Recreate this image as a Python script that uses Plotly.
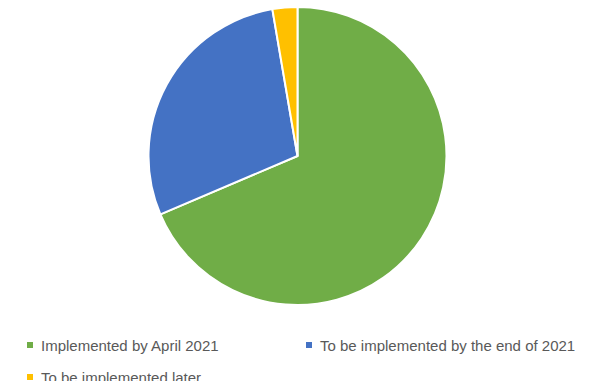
import plotly.graph_objects as go

labels = ["Implemented by April 2021", "To be implemented by the end of 2021", "To be implemented later"]
values = [68.6, 28.7, 2.7]
colors = ["#70AD47", "#4472C4", "#FFC000"]

W, H = 595, 381
fig = go.Figure(go.Pie(
    labels=labels, values=values, sort=False, direction="clockwise", rotation=0,
    marker=dict(colors=colors, line=dict(color="white", width=2)),
    textinfo="none", hoverinfo="label+percent", showlegend=False,
    domain=dict(x=[0, 1], y=[(H - 305) / H, (H - 7) / H]),
))

# manual legend (pixel layout positions)
legend_pos = [(27, 345), (306, 345), (27, 377)]
shapes, annotations = [], []
for (px, py), lab, col in zip(legend_pos, labels, colors):
    shapes.append(dict(type="rect", xref="paper", yref="paper",
                       x0=px / W, x1=(px + 6) / W, y0=(H - py - 3) / H, y1=(H - py + 3) / H,
                       fillcolor=col, line=dict(width=0)))
    annotations.append(dict(xref="paper", yref="paper", x=(px + 12) / W, y=(H - py) / H,
                            xanchor="left", yanchor="middle", text=lab, showarrow=False,
                            font=dict(family="Liberation Sans", size=15, color="#595959")))

fig.update_layout(
    width=W, height=H, margin=dict(l=0, r=0, t=0, b=0),
    paper_bgcolor="white", plot_bgcolor="white",
    shapes=shapes, annotations=annotations,
)
fig.write_html("out.html")
